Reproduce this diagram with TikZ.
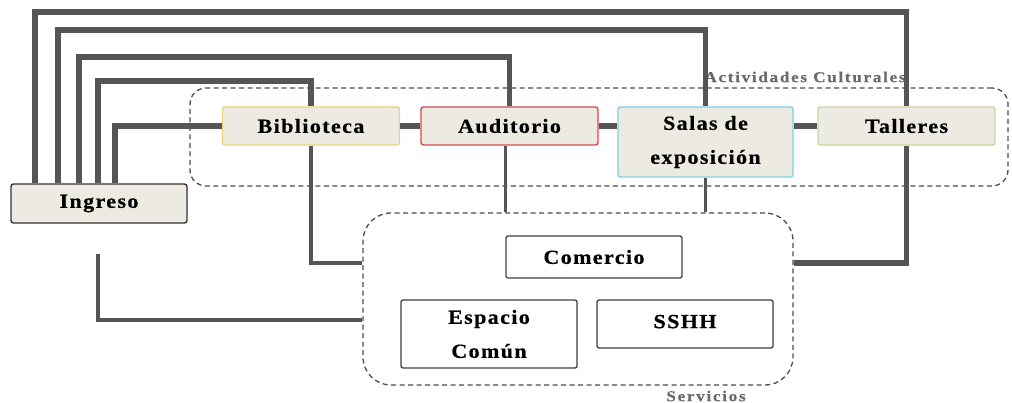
\documentclass[tikz,border=0pt]{standalone}
\usepackage{fontspec}
\setmainfont{Liberation Serif}[FakeStretch=1.1,LetterSpace=7,FakeBold=0.6]
\newfontfamily\grouplabelfont{Liberation Serif}[FakeStretch=1.15,LetterSpace=11,FakeBold=0.4]
\usepackage{tikz}
\definecolor{linkgray}{HTML}{555555}
\definecolor{boxfill}{HTML}{EDEBE1}
\definecolor{bibedge}{HTML}{EED27A}
\definecolor{audedge}{HTML}{D9474E}
\definecolor{salaedge}{HTML}{80CFE6}
\definecolor{talledge}{HTML}{C7D59C}
\definecolor{labelgray}{HTML}{6A6A6A}

\begin{document}
\begin{tikzpicture}[line cap=butt,line join=miter,x=1pt,y=-1pt,
  area/.style={draw=#1,line width=1.4pt,fill=boxfill,rounded corners=2.5pt,
    minimum width=177pt,minimum height=38pt,font=\fontsize{20}{34}\selectfont\bfseries,
    align=center,inner sep=0pt},
  service/.style={draw=black!75,line width=1.3pt,fill=white,rounded corners=2pt,
    minimum width=176pt,font=\fontsize{20}{34}\selectfont\bfseries,align=center,inner sep=0pt},
  group/.style={draw=black!70,line width=1.3pt,dash pattern=on 5pt off 3.5pt,
    rounded corners=#1,inner sep=0pt},
  grouplabel/.style={text=labelgray,font=\grouplabelfont\fontsize{15}{18}\selectfont\bfseries,inner sep=0pt},
  thickline/.style={draw=linkgray,line width=5.5pt},
  thinline/.style={draw=linkgray,line width=3.5pt}]
\useasboundingbox (0,0) rectangle (1012,403);
% zonas
\node[group=16pt,minimum width=818pt,minimum height=98pt] (acts) at (599,137) {};
\node[group=28pt,minimum width=430pt,minimum height=172pt] (serv) at (578,299) {};
\node[grouplabel] (actslabel) at (805,77) {Actividades Culturales};
\node[grouplabel] (servlabel) at (706,396) {Servicios};
% recintos
\node[area=black!80,minimum width=176pt,minimum height=39pt] (ingreso) at (99,203.5) {Ingreso};
\node[area=bibedge] (bib) at (311,126) {Biblioteca};
\node[area=audedge] (aud) at (509.5,126) {Auditorio};
\node[area=salaedge,minimum width=175pt,minimum height=70pt] (salas) at (705.5,142) {Salas de\\exposición};
\node[area=talledge] (tall) at (906.5,126) {Talleres};
\node[service,minimum height=42pt] (com) at (594,257) {Comercio};
\node[service,minimum height=68pt] (esp) at (489,334) {Espacio\\Común};
\node[service,minimum height=48pt] (sshh) at (685,324) {\raisebox{5pt}{SSHH}};
% accesos desde el ingreso
\foreach \dx/\ty/\to in {-64/12/tall,-41/30/salas,-20/57/aud,-1/81/bib}
  \draw[thickline] ([xshift=\dx pt]ingreso.north) |- (\to.north |- 0,\ty) -- (\to.north);
\draw[thickline] ([xshift=16pt]ingreso.north) |- (bib.west);
\draw[thinline] ([xshift=-1pt,yshift=-30pt]ingreso.south) |- (serv.west |- 0,320);
% entre recintos
\draw[thickline] (bib.east) -- (aud.west);
\draw[thickline] (aud.east) -- (aud.east -| salas.west);
\draw[thickline] (salas.east |- tall.west) -- (tall.west);
% hacia servicios
\draw[thinline] (bib.south) |- (serv.west |- 0,263);
\draw[thinline] ([xshift=-4pt]aud.south) -- ([xshift=-4pt]aud.south |- serv.north);
\draw[thinline] (salas.south) -- (salas.south |- serv.north);
\draw[thickline] (tall.south) |- (serv.east |- 0,263);
\end{tikzpicture}
\end{document}
